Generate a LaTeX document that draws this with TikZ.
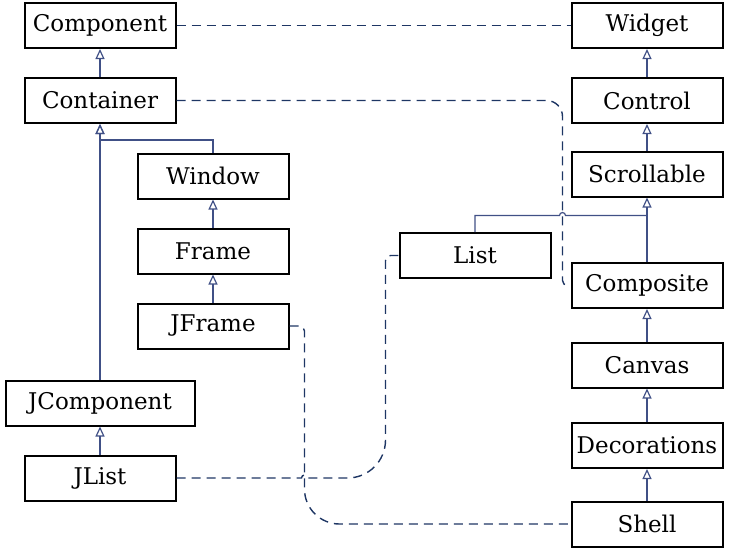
\documentclass[tikz,border=0pt]{standalone}
\usepackage{fontspec}
\setmainfont{DejaVu Serif}
\usetikzlibrary{arrows.meta,positioning,calc}
\definecolor{linkblue}{RGB}{64,80,134}
\definecolor{dashblue}{RGB}{30,54,100}
\tikzstyle{class}=[draw, line width=2pt, minimum width=151pt, minimum height=45pt, fill=white]
\tikzstyle{link}=[draw=linkblue, line width=1.2pt]
\tikzstyle{inherit}=[link, -{Triangle[open,length=10pt,width=9pt]}]
\tikzstyle{uses}=[draw=dashblue, line width=1.4pt, dash pattern=on 9pt off 6pt]

\begin{document}
\begin{tikzpicture}[x=1pt,y=1pt,node distance=28pt,font=\fontsize{23}{27}\selectfont]
    \useasboundingbox (0,0) rectangle (734,-555);
    % awt side
    \node (comp) [class] at (100,-25.5) {Component};
    \node (cont) [below=of comp,class] {Container};
    \node (jcomp) [class,minimum width=189pt] at (100,-403) {JComponent};
    \node (jlist) [below=of jcomp,class] {JList};
    \node (win) [class] at (213,-176) {Window};
    \node (frame) [below=of win,class] {Frame};
    \node (jframe) [below=of frame,class] {JFrame};
    % swt side
    \node (widget) [class] at (647,-25.5) {Widget};
    \node (ctrl) [below=of widget,class] {Control};
    \node (scroll) [below=26.5pt of ctrl,class] {Scrollable};
    \node (list) [class] at (475,-255.5) {List};
    \node (compo) [class] at (647,-285.5) {Composite};
    \node (canvas) [below=32.5pt of compo,class] {Canvas};
    \node (deco) [below=33.5pt of canvas,class] {Decorations};
    \node (shell) [below=31.5pt of deco,class] {Shell};
    % bend points
    \node (contjoin) [below=16pt of cont.south,coordinate] {};
    \node (scrolljoin) [below=18pt of scroll.south,coordinate] {};
    \node (contdrop) [left=8pt of compo.west,coordinate] {};
    \node (jframeout) [right=15pt of jframe.east,coordinate] {};
    \node (listout) [left=13pt of list.west,coordinate] {};
    \coordinate (listhop) at ($(contdrop |- scrolljoin)+(-3,0)$);
    \coordinate (jlisthop) at ($(jframeout |- jlist.east)+(-3,0)$);
    \path[inherit]
        (cont) edge (comp)
        (jcomp) edge (cont)
        (jlist) edge (jcomp)
        (frame) edge (win)
        (jframe) edge (frame)
        (ctrl) edge (widget)
        (scroll) edge (ctrl)
        (compo) edge (scroll)
        (canvas) edge (compo)
        (deco) edge (canvas)
        (shell) edge (deco);
    \draw[inherit] (win.north) |- (contjoin) -- (cont.south);
    \draw[link] (list.north) |- (listhop) arc[start angle=180,end angle=0,radius=3pt] -- (scrolljoin);
    % mappings
    \path[uses] (comp) edge (widget);
    \draw[uses] (cont.east) -- ($(contdrop |- cont.east)+(-16,0)$) arc[start angle=90,end angle=0,radius=16pt]
        -- ($(contdrop)+(0,5)$) arc[start angle=180,end angle=270,radius=5pt] -- (compo.west);
    \draw[uses] (jlist.east) -- (jlisthop) arc[start angle=180,end angle=0,radius=3pt]
        -- ($(listout |- jlist.east)+(-38,0)$) arc[start angle=270,end angle=360,radius=38pt]
        -- ($(listout)+(0,-5)$) arc[start angle=180,end angle=90,radius=5pt] -- (list.west);
    \draw[uses] (jframe.east) -- ($(jframeout)+(-5,0)$) arc[start angle=90,end angle=0,radius=5pt]
        -- ($(jframeout |- shell.west)+(0,35)$) arc[start angle=180,end angle=270,radius=35pt] -- (shell.west);
\end{tikzpicture}
\end{document}
